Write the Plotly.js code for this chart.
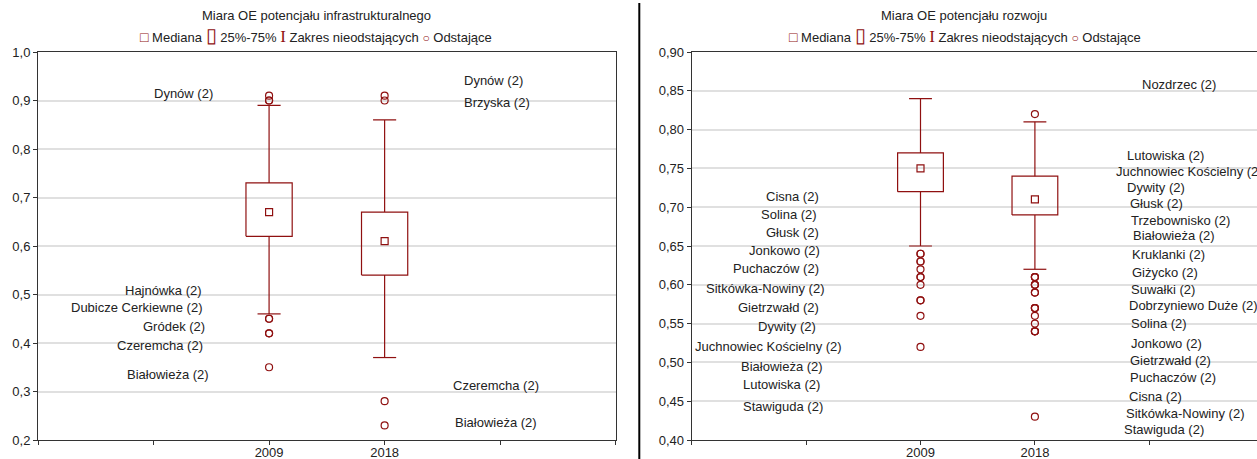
<!DOCTYPE html>
<html>
<head>
<meta charset="utf-8">
<script src="https://cdn.plot.ly/plotly-3.0.1.min.js"></script>
<style>html,body{margin:0;padding:0;background:#fff;}#chart{width:1257px;height:459px;}</style>
</head>
<body>
<div id="chart"></div>
<script>
// ---------------- data ----------------
const categories = ['2009', '2018'];

// Panel 1: Miara OE potencjału infrastrukturalnego
const infraQ1     = [0.62, 0.54];
const infraMedian = [0.67, 0.61];
const infraQ3     = [0.73, 0.67];
const infraLow    = [0.46, 0.37];
const infraHigh   = [0.89, 0.86];
const infraOutliers2009 = [0.91, 0.90, 0.90, 0.45, 0.45, 0.42, 0.42, 0.35];
const infraOutliers2018 = [0.91, 0.90, 0.28, 0.23];

// Panel 2: Miara OE potencjału rozwoju
const devQ1     = [0.72, 0.69];
const devMedian = [0.75, 0.71];
const devQ3     = [0.77, 0.74];
const devLow    = [0.65, 0.62];
const devHigh   = [0.84, 0.81];
const devOutliers2009 = [0.64, 0.64, 0.63, 0.63, 0.62, 0.61, 0.61, 0.60, 0.58, 0.58, 0.56, 0.52];
const devOutliers2018 = [0.82, 0.61, 0.61, 0.61, 0.60, 0.60, 0.60, 0.59, 0.59, 0.57, 0.57, 0.57, 0.56, 0.55, 0.54, 0.54, 0.54, 0.43];

// titles and legend texts
const panelTitles = ['Miara OE potencjału infrastrukturalnego', 'Miara OE potencjału rozwoju'];
const legendNames = ['Mediana', '25%-75%', 'Zakres nieodstających', 'Odstające'];

// point labels
const infraLeftLabels  = ['Dynów (2)', 'Hajnówka (2)', 'Dubicze Cerkiewne (2)', 'Gródek (2)', 'Czeremcha (2)', 'Białowieża (2)'];
const infraRightLabels = ['Dynów (2)', 'Brzyska (2)', 'Czeremcha (2)', 'Białowieża (2)'];
const devLeftLabels  = ['Cisna (2)', 'Solina (2)', 'Głusk (2)', 'Jonkowo (2)', 'Puchaczów (2)', 'Sitkówka-Nowiny (2)', 'Gietrzwałd (2)', 'Dywity (2)', 'Juchnowiec Kościelny (2)', 'Białowieża (2)', 'Lutowiska (2)', 'Stawiguda (2)'];
const devRightLabels = ['Nozdrzec (2)', 'Lutowiska (2)', 'Juchnowiec Kościelny (2)', 'Dywity (2)', 'Głusk (2)', 'Trzebownisko (2)', 'Białowieża (2)', 'Kruklanki (2)', 'Giżycko (2)', 'Suwałki (2)', 'Dobrzyniewo Duże (2)', 'Solina (2)', 'Jonkowo (2)', 'Gietrzwałd (2)', 'Puchaczów (2)', 'Cisna (2)', 'Sitkówka-Nowiny (2)', 'Stawiguda (2)'];

// ---------------- layout helpers (positions only) ----------------
const catPos = [2, 3];
const infraLeftLabelPos  = {x: [1.518, 1.417, 1.429, 1.449, 1.431, 1.483], y: [0.915, 0.509, 0.473, 0.434, 0.394, 0.335]};
const infraRightLabelPos = {x: [3.683, 3.683, 3.596, 3.608], y: [0.941, 0.895, 0.313, 0.236]};
const devLeftLabelPos  = {x: [0.877, 0.848, 0.879, 0.809, 0.737, 0.638, 0.757, 0.833, 0.673, 0.787, 0.783, 0.798],
                          y: [0.7135, 0.6903, 0.6672, 0.6448, 0.6212, 0.5955, 0.5705, 0.546, 0.5203, 0.4945, 0.4718, 0.4438]};
const devRightLabelPos = {x: [3.939, 3.805, 3.709, 3.802, 3.834, 3.840, 3.858, 3.849, 3.849, 3.843, 3.820, 3.837, 3.837, 3.829, 3.831, 3.820, 3.794, 3.781],
                          y: [0.8584, 0.7664, 0.7458, 0.7252, 0.7045, 0.6826, 0.6633, 0.6393, 0.6156, 0.5942, 0.5731, 0.5504, 0.5246, 0.5022, 0.4803, 0.4558, 0.4344, 0.4138]};

const RED = '#8f1010';
const FONT = 'Liberation Sans, Arial, sans-serif';
const FS = 13;
const BOXW = 0.2, CAPW = 0.1;

function panelTraces(xa, ya, q1, med, q3, lo, hi, outs) {
  const bx = [], by = [], wx = [], wy = [], ox = [], oy = [];
  categories.forEach((c, i) => {
    const p = catPos[i];
    bx.push(p - BOXW, p + BOXW, p + BOXW, p - BOXW, p - BOXW, null);
    by.push(q1[i], q1[i], q3[i], q3[i], q1[i], null);
    wx.push(p, p, null, p, p, null, p - CAPW, p + CAPW, null, p - CAPW, p + CAPW, null);
    wy.push(lo[i], q1[i], null, q3[i], hi[i], null, lo[i], lo[i], null, hi[i], hi[i], null);
    outs[i].forEach(v => { ox.push(p); oy.push(v); });
  });
  const common = {xaxis: xa, yaxis: ya, hoverinfo: 'skip', showlegend: false};
  return [
    Object.assign({type: 'scatter', mode: 'lines', name: legendNames[1], x: bx, y: by,
      line: {color: RED, width: 1.2}}, common),
    Object.assign({type: 'scatter', mode: 'lines', name: legendNames[2], x: wx, y: wy,
      line: {color: RED, width: 1.2}}, common),
    Object.assign({type: 'scatter', mode: 'markers', name: legendNames[0], x: catPos, y: med,
      marker: {symbol: 'square-open', size: 7, color: RED, line: {width: 1.2, color: RED}}}, common),
    Object.assign({type: 'scatter', mode: 'markers', name: legendNames[3], x: ox, y: oy,
      marker: {symbol: 'circle-open', size: 7, color: RED, line: {width: 1.2, color: RED}}}, common)
  ];
}

const data = [].concat(
  panelTraces('x', 'y', infraQ1, infraMedian, infraQ3, infraLow, infraHigh, [infraOutliers2009, infraOutliers2018]),
  panelTraces('x2', 'y2', devQ1, devMedian, devQ3, devLow, devHigh, [devOutliers2009, devOutliers2018])
);

function labelAnns(texts, pos, xref, yref, anchor) {
  return texts.map((t, i) => ({text: t, x: pos.x[i], y: pos.y[i], xref: xref, yref: yref,
    xanchor: anchor, yanchor: 'middle', showarrow: false, borderpad: 0, borderwidth: 0,
    font: {family: FONT, size: FS, color: '#222'}}));
}

const W = 1257, H = 459, ML = 38, MT = 52, MB = 19;
const PW = W - ML, PH = H - MT - MB;
const px2x = p => (p - ML) / PW;
const py2y = p => 1 - (p - MT) / PH;

const tickVals = [0, 1, 2, 3, 4, 5];
const tickText = ['', '', categories[0], categories[1], '', ''];

// legend line built from text with coloured symbols
const sym = (ch, size, extra) => `<span style="color:${RED};font-size:${size}px;${extra || ''}">${ch}</span>`;
const legendText =
  sym('□', 14) + ' ' + legendNames[0] + ' ' +
  sym('▯', 20) + ' ' + legendNames[1] + ' ' +
  sym('I', 17, 'font-family:Liberation Serif') + ' ' + legendNames[2] + ' ' +
  sym('○', 12) + ' ' + legendNames[3];

const axisFont = {family: FONT, size: FS, color: '#222'};
const baseX = {tickvals: tickVals, ticktext: tickText, showgrid: false, zeroline: false, showline: true,
  linecolor: '#333', linewidth: 1, ticks: 'outside', ticklen: 4, tickcolor: '#333', tickfont: axisFont,
  ticklabelstandoff: -4, fixedrange: true};
const baseY = {showgrid: true, gridcolor: '#e0e0e0', gridwidth: 2, zeroline: false, showline: true,
  linecolor: '#333', linewidth: 1, ticks: 'outside', ticklen: 4, tickcolor: '#333', tickfont: axisFont, fixedrange: true};

const R2 = (W - 691.7) / 114.4;
const layout = {
  width: W, height: H,
  margin: {l: ML, r: 0, t: MT, b: MB, pad: 0},
  paper_bgcolor: '#fff', plot_bgcolor: '#fff',
  separators: ', ',
  showlegend: false,
  font: {family: FONT, size: FS, color: '#222'},
  xaxis: Object.assign({}, baseX, {domain: [0, px2x(615.7)], range: [0, 5], anchor: 'y', mirror: true}),
  yaxis: Object.assign({}, baseY, {range: [0.2, 1.0], dtick: 0.1, tick0: 0, tickformat: '.1f', anchor: 'x', mirror: true}),
  xaxis2: Object.assign({}, baseX, {domain: [px2x(691.7), 1], range: [0, R2], anchor: 'y2', mirror: true}),
  yaxis2: Object.assign({}, baseY, {range: [0.4, 0.9], dtick: 0.05, tick0: 0, tickformat: '.2f', anchor: 'x2'}),
  xaxis3: {overlaying: 'x', side: 'top', anchor: 'y', range: [0, 5], tickvals: tickVals, showticklabels: false,
    ticks: 'inside', ticklen: 4, tickcolor: '#333', showgrid: false, zeroline: false, showline: false, fixedrange: true},
  xaxis4: {overlaying: 'x2', side: 'top', anchor: 'y2', range: [0, R2], tickvals: tickVals, showticklabels: false,
    ticks: 'inside', ticklen: 4, tickcolor: '#333', showgrid: false, zeroline: false, showline: false, fixedrange: true},
  annotations: [
    {text: panelTitles[0], xref: 'paper', yref: 'paper', x: px2x(316), y: py2y(16),
      xanchor: 'center', yanchor: 'middle', showarrow: false, font: {family: FONT, size: FS, color: '#222'}},
    {text: panelTitles[1], xref: 'paper', yref: 'paper', x: px2x(964), y: py2y(16),
      xanchor: 'center', yanchor: 'middle', showarrow: false, font: {family: FONT, size: FS, color: '#222'}},
    {text: legendText, xref: 'paper', yref: 'paper', x: px2x(316), y: py2y(35),
      xanchor: 'center', yanchor: 'middle', showarrow: false, font: {family: FONT, size: FS, color: '#222'}},
    {text: legendText, xref: 'paper', yref: 'paper', x: px2x(965), y: py2y(35),
      xanchor: 'center', yanchor: 'middle', showarrow: false, font: {family: FONT, size: FS, color: '#222'}}
  ].concat(
    labelAnns(infraLeftLabels, infraLeftLabelPos, 'x', 'y', 'right'),
    labelAnns(infraRightLabels, infraRightLabelPos, 'x', 'y', 'left'),
    labelAnns(devLeftLabels, devLeftLabelPos, 'x2', 'y2', 'center'),
    labelAnns(devRightLabels, devRightLabelPos, 'x2', 'y2', 'left')
  ),
  shapes: [
    {type: 'line', xref: 'paper', yref: 'paper', x0: px2x(639.3), x1: px2x(639.3), y0: py2y(3), y1: py2y(462),
      line: {color: '#000', width: 2}}
  ]
};

Plotly.newPlot('chart', data, layout, {staticPlot: true, displayModeBar: false});
</script>
</body>
</html>
